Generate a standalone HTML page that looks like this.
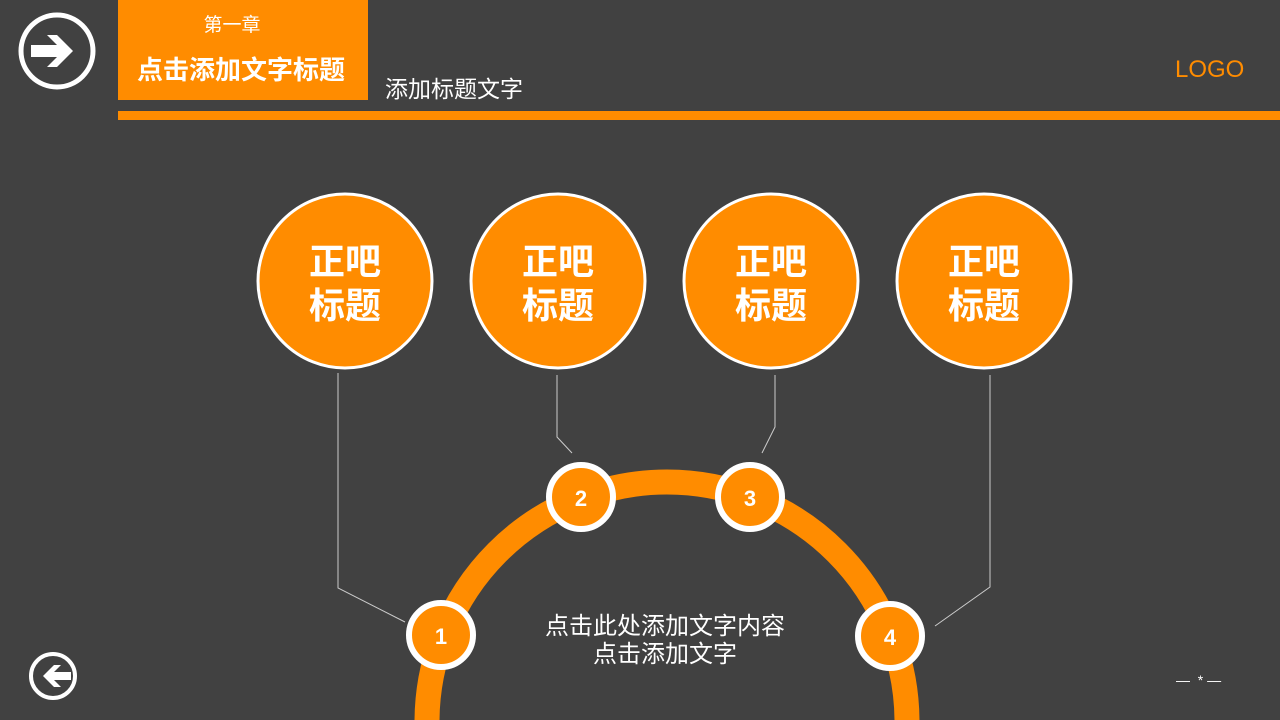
<!DOCTYPE html>
<html><head><meta charset="utf-8"><style>
html,body{margin:0;width:1280px;height:720px;overflow:hidden}
body{background:#414141;position:relative;font-family:"Liberation Sans","Noto Sans CJK SC",sans-serif}
.a{position:absolute}
</style></head><body>
<div class="a" style="left:118px;top:0;width:250px;height:100px;background:#FF8C00"></div>
<div class="a" style="left:118px;top:111px;width:1162px;height:9px;background:#FF8C00"></div>
<div class="a" style="left:118px;top:10px;width:228px;text-align:center;color:#fff;font-size:19px">第一章</div>
<div class="a" style="left:126px;top:50px;width:230px;text-align:center;color:#fff;font-size:26px;font-weight:bold;white-space:nowrap">点击添加文字标题</div>
<div class="a" style="left:385px;top:70px;color:#fff;font-size:23px">添加标题文字</div>
<div class="a" style="left:1175px;top:56px;color:#FF8C00;font-size:24px">LOGO</div>
<div class="a" style="left:1176px;top:672px;color:#fff;font-size:14px">—&nbsp; * —</div>
<svg class="a" style="left:0;top:0" width="1280" height="720">
<circle cx="57" cy="51" r="36" fill="none" stroke="#fff" stroke-width="5"/>
<path d="M31 45h26l-10-10h10l16 16-16 16h-10l10-10h-26z" fill="#fff"/>
<circle cx="53" cy="676" r="22" fill="none" stroke="#fff" stroke-width="4"/>
<path d="M71 672h-17l7-7h-7l-11 11 11 11h7l-7-7h17z" fill="#fff"/>
<g stroke="#ccc" stroke-width="1" fill="none">
<polyline points="338,373 338,588 405,622"/>
<polyline points="557,375 557,437 572,453"/>
<polyline points="775,375 775,427 762,453"/>
<polyline points="990,375 990,587 935,626"/>
</g>
<circle cx="667" cy="722" r="240" fill="none" stroke="#FF8C00" stroke-width="25"/>
<g fill="#FF8C00" stroke="#fff" stroke-width="6">
<circle cx="441" cy="635" r="32"/><circle cx="581" cy="497" r="32"/>
<circle cx="750" cy="497" r="32"/><circle cx="890" cy="636" r="32"/>
<circle cx="345" cy="281" r="87" stroke-width="3"/><circle cx="558" cy="281" r="87" stroke-width="3"/>
<circle cx="771" cy="281" r="87" stroke-width="3"/><circle cx="984" cy="281" r="87" stroke-width="3"/>
</g>
<g fill="#fff" font-weight="bold" font-size="22" text-anchor="middle" font-family="Liberation Sans,sans-serif">
<text x="441" y="644">1</text><text x="581" y="506">2</text><text x="750" y="506">3</text><text x="890" y="645">4</text>
</g>
<g fill="#fff" font-weight="bold" font-size="36" text-anchor="middle" font-family="Liberation Sans,Noto Sans CJK SC,sans-serif">
<text x="345" y="274">正吧</text><text x="345" y="318">标题</text>
<text x="558" y="274">正吧</text><text x="558" y="318">标题</text>
<text x="771" y="274">正吧</text><text x="771" y="318">标题</text>
<text x="984" y="274">正吧</text><text x="984" y="318">标题</text>
</g>
<g fill="#fff" font-size="24" text-anchor="middle" font-family="Liberation Sans,Noto Sans CJK SC,sans-serif">
<text x="665" y="634">点击此处添加文字内容</text><text x="665" y="662">点击添加文字</text>
</g>
</svg>
</body></html>
